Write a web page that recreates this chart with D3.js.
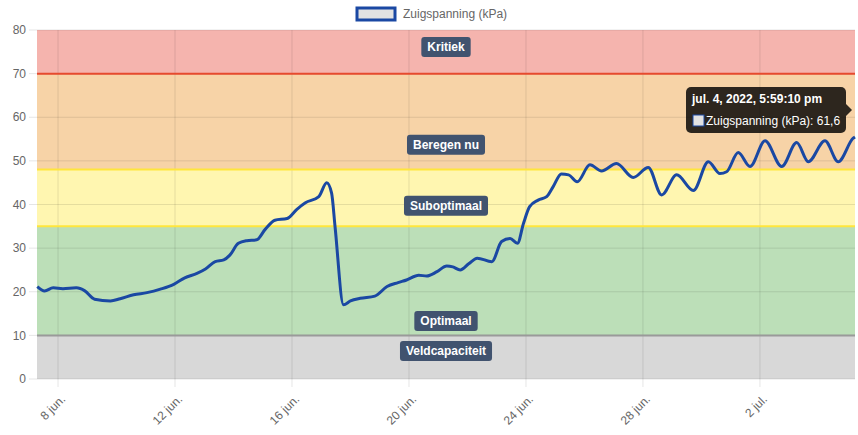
<!DOCTYPE html>
<html><head><meta charset="utf-8">
<script src="https://cdn.jsdelivr.net/npm/d3@7"></script>
<style>body{margin:0;background:#fff}svg{display:block}text{font-family:"Liberation Sans",Arial,Helvetica,sans-serif}</style>
</head><body><svg id="c" width="858" height="435"></svg>
<script>
const times = ["2022-06-07T07:00","2022-06-07T13:00","2022-06-07T20:00","2022-06-08T04:00","2022-06-08T15:00","2022-06-08T22:00","2022-06-09T06:00","2022-06-09T19:00","2022-06-10T03:00","2022-06-10T14:00","2022-06-11T01:00","2022-06-11T12:00","2022-06-11T23:00","2022-06-12T08:00","2022-06-12T18:00","2022-06-13T01:00","2022-06-13T09:00","2022-06-13T16:00","2022-06-13T21:00","2022-06-14T04:00","2022-06-14T11:00","2022-06-14T19:00","2022-06-15T02:00","2022-06-15T10:00","2022-06-15T20:00","2022-06-16T04:00","2022-06-16T11:00","2022-06-16T22:00","2022-06-17T04:30","2022-06-17T08:30","2022-06-17T11:20","2022-06-17T18:15","2022-06-18T00:00","2022-06-18T08:00","2022-06-18T20:00","2022-06-19T06:00","2022-06-19T15:00","2022-06-19T22:00","2022-06-20T08:00","2022-06-20T14:30","2022-06-20T23:00","2022-06-21T07:00","2022-06-21T12:00","2022-06-21T18:00","2022-06-22T01:00","2022-06-22T08:00","2022-06-22T20:00","2022-06-23T04:00","2022-06-23T11:00","2022-06-23T17:00","2022-06-23T22:00","2022-06-24T03:00","2022-06-24T10:00","2022-06-24T17:00","2022-06-24T22:20","2022-06-25T05:00","2022-06-25T11:00","2022-06-25T18:00","2022-06-26T04:30","2022-06-26T14:00","2022-06-27T02:20","2022-06-27T16:00","2022-06-28T04:20","2022-06-28T15:20","2022-06-29T03:40","2022-06-29T17:20","2022-06-30T05:40","2022-06-30T15:10","2022-06-30T20:40","2022-07-01T06:10","2022-07-01T15:50","2022-07-02T04:10","2022-07-02T17:50","2022-07-03T06:10","2022-07-03T15:40","2022-07-04T05:20","2022-07-04T16:15","2022-07-05T04:30","2022-07-05T06:00"];
const values = [21.2,20.2,20.9,20.7,20.9,20.2,18.3,17.9,18.4,19.3,19.8,20.6,21.7,23.2,24.2,25.2,26.9,27.3,28.4,31.1,31.7,31.9,34.3,36.4,36.8,38.9,40.4,41.8,45.0,42.6,34.9,17.0,17.9,18.5,19.0,21.2,22.1,22.7,23.8,23.6,24.6,25.9,25.7,25.0,26.4,27.7,26.9,31.5,32.2,31.1,35.7,39.5,41.0,41.8,44.1,47.0,46.8,45.2,49.1,47.7,49.4,46.2,48.5,42.2,46.8,43.2,49.8,47.1,47.5,51.9,48.7,54.6,48.7,54.2,49.8,54.6,49.8,55.2,55.5];
const xTickDates = ["2022-06-08","2022-06-12","2022-06-16","2022-06-20","2022-06-24","2022-06-28","2022-07-02"];
const xTickLabels = ["8 jun.","12 jun.","16 jun.","20 jun.","24 jun.","28 jun.","2 jul."];
const yTicks = [0,10,20,30,40,50,60,70,80];
const zoneNames = ["Veldcapaciteit","Optimaal","Suboptimaal","Beregen nu","Kritiek"];
const zoneFrom = [0,10,35,48,70];
const zoneTo = [10,35,48,70,80];
const zoneLabelAt = [6.4,13.3,39.7,53.7,76.1];
const zoneFill = ["#d8d8d8","#bcdfb8","#fff6b0","#f7d3a7","#f5b4ae"];
const lineValues = [10,35,48,70];
const lineColors = ["#9a9a9a","#ffe63c","#ffe63c","#e64a2e"];
const seriesName = "Zuigspanning (kPa)";
const tooltipTitle = "jul. 4, 2022, 5:59:10 pm";
const tooltipBody = "Zuigspanning (kPa): 61,6";

const parse = d3.isoParse;
const data = times.map((t,i)=>({t:parse(t),v:values[i]}));
const svg = d3.select("#c");
const L=37,R=855,T=30,B=379;
const x = d3.scaleTime().domain([parse("2022-06-07T06:45"),parse("2022-07-05T06:00")]).range([L,R]);
const y = d3.scaleLinear().domain([0,80]).range([B,T]);

// zones
svg.append("g").selectAll("rect").data(zoneFrom).join("rect")
  .attr("x",L).attr("width",R-L)
  .attr("y",(d,i)=>y(zoneTo[i])).attr("height",(d,i)=>y(d)-y(zoneTo[i]))
  .attr("fill",(d,i)=>zoneFill[i]);

// grid
const g = svg.append("g");
g.selectAll(".hy").data(yTicks).join("line")
  .attr("x1",L-8).attr("x2",R).attr("y1",d=>y(d)).attr("y2",d=>y(d))
  .attr("stroke","rgba(0,0,0,0.1)");
g.selectAll(".vx").data(xTickDates).join("line")
  .attr("x1",d=>x(parse(d))).attr("x2",d=>x(parse(d))).attr("y1",T).attr("y2",B+8)
  .attr("stroke","rgba(0,0,0,0.1)");

// zone lines
svg.append("g").selectAll("line").data(lineValues).join("line")
  .attr("x1",L).attr("x2",R).attr("y1",d=>y(d)).attr("y2",d=>y(d))
  .attr("stroke",(d,i)=>lineColors[i]).attr("stroke-width",2);

// y labels
svg.append("g").selectAll("text").data(yTicks).join("text")
  .attr("x",26).attr("y",d=>y(d)).attr("dy","0.35em").attr("text-anchor","end")
  .attr("fill","#666").attr("font-size",12).text(d=>d);

// x labels
svg.append("g").selectAll("text").data(xTickDates).join("text")
  .attr("transform",d=>`translate(${x(parse(d))+8},${B+21}) rotate(-45)`)
  .attr("text-anchor","end").attr("fill","#666").attr("font-size",12)
  .text((d,i)=>xTickLabels[i]);

// zone labels
const lg = svg.append("g");
zoneNames.forEach((n,i)=>{
  const cx=(L+R)/2, cy=y(zoneLabelAt[i]);
  const t = lg.append("text").attr("x",cx).attr("y",cy).attr("dy","0.35em")
    .attr("text-anchor","middle").attr("fill","#fff").attr("font-weight","bold").attr("font-size",12).text(n);
  const w = t.node().getComputedTextLength();
  lg.insert("rect","text").attr("x",cx-w/2-6).attr("y",cy-10).attr("width",w+12).attr("height",20)
    .attr("rx",3).attr("fill","#41536f");
});

// line
svg.append("path").datum(data)
  .attr("d",d3.line().x(d=>x(d.t)).y(d=>y(d.v)).curve(d3.curveMonotoneX))
  .attr("fill","none").attr("stroke","#1a48a3").attr("stroke-width",3)
  .attr("stroke-linejoin","round");

// legend
svg.append("rect").attr("x",357).attr("y",8).attr("width",38).attr("height",12)
  .attr("fill","#e2e2e2").attr("stroke","#1a48a3").attr("stroke-width",3);
svg.append("text").attr("x",403).attr("y",18).attr("fill","#666").attr("font-size",12).text(seriesName);

// tooltip
const tt = svg.append("g");
tt.append("path").attr("d","M846,104 L852,110 L846,116 Z").attr("fill","rgba(0,0,0,0.82)");
tt.append("rect").attr("x",686).attr("y",87).attr("width",160).attr("height",46).attr("rx",5)
  .attr("fill","rgba(0,0,0,0.82)");
tt.append("text").attr("x",692).attr("y",103).attr("fill","#fff").attr("font-weight","bold").attr("font-size",12).text(tooltipTitle);
tt.append("rect").attr("x",693).attr("y",115).attr("width",11).attr("height",11)
  .attr("fill","#e2e2e2").attr("stroke","#1a48a3").attr("stroke-width",1);
tt.append("text").attr("x",706).attr("y",125).attr("fill","#fff").attr("font-size",12).text(tooltipBody);
</script></body></html>
